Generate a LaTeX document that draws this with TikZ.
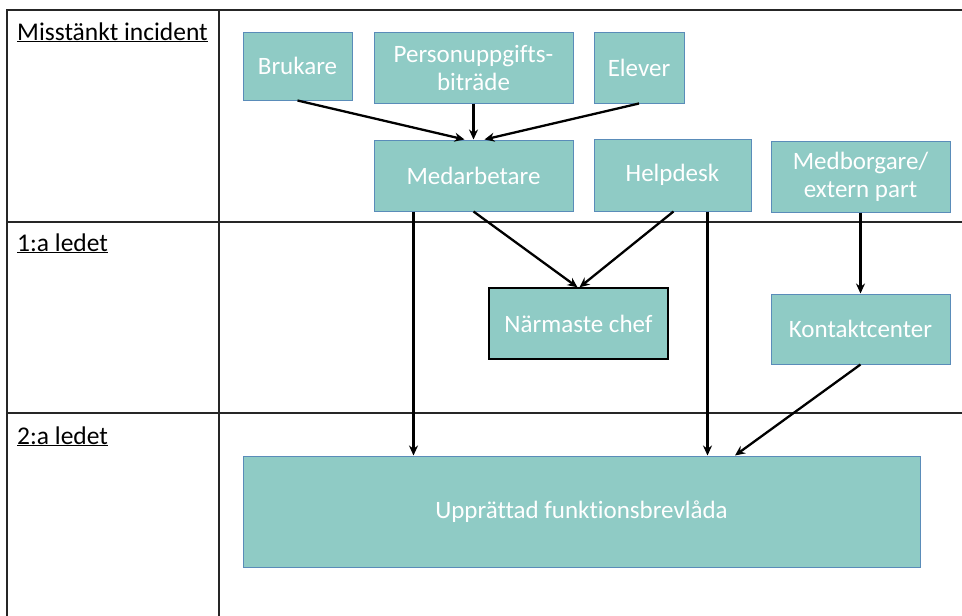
\documentclass[tikz,border=0pt]{standalone}
\usepackage{fontspec}
\setmainfont[Ligatures=NoCommon]{Carlito}
\usetikzlibrary{arrows.meta}
\definecolor{boxfill}{RGB}{143,203,197}
\definecolor{boxedge}{RGB}{90,140,185}
\begin{document}
\begin{tikzpicture}[x=1pt,y=-1pt,
  box/.style={draw=boxedge,line width=1pt,fill=boxfill,text=white,align=center,
    font=\fontsize{25}{28}\selectfont,inner sep=2pt},
  lbl/.style={anchor=base west,font=\fontsize{25.5}{28}\selectfont,inner sep=0pt},
  grid/.style={line width=1.4pt,black!85},
  arr/.style={line width=2.3pt,-{Stealth[length=10pt,width=9pt]}}]
\useasboundingbox (0,0) rectangle (962,616);
% table
\draw[grid] (7,616) -- (7,10) -- (962,10);
\draw[grid] (219,10) -- (219,616);
\draw[grid] (7,222) -- (962,222);
\draw[grid] (7,413) -- (962,413);
\node[lbl] (l0) at (17,40) {\underline{Misstänkt incident}};
\node[lbl] (l1) at (17,251) {\underline{1:a ledet}};
\node[lbl] (l2) at (17,444) {\underline{2:a ledet}};
% boxes
\node[box,minimum width=109,minimum height=68] (bru) at (297.5,66) {Brukare};
\node[box,minimum width=199,minimum height=71] (per) at (473.5,67.5) {Personuppgifts-\\biträde};
\node[box,minimum width=90,minimum height=71] (ele) at (639,67.5) {Elever};
\node[box,minimum width=199,minimum height=71] (med) at (473.5,175.5) {Medarbetare};
\node[box,minimum width=157,minimum height=72] (hel) at (672.5,175) {Helpdesk};
\node[box,minimum width=179,minimum height=71] (mbg) at (860.5,176.5) {Medborgare/\\extern part};
\node[box,draw=black,line width=1.4pt,minimum width=179,minimum height=71] (nch) at (578.5,323.5) {Närmaste chef};
\node[box,minimum width=179,minimum height=70] (kon) at (860.5,329) {Kontaktcenter};
\node[box,minimum width=677,minimum height=111] (upp) at (581.5,511.5) {Upprättad funktionsbrevlåda};
% arrows
\draw[arr] (bru.south) -- ([xshift=-9]med.north);
\draw[arr] (per.south) -- (med.north);
\draw[arr] (ele.south) -- ([xshift=11]med.north);
\draw[arr] (med.south) -- ([xshift=-1]nch.north);
\draw[arr] ([xshift=1]hel.south) -- ([xshift=1]nch.north);
\coordinate (m1) at ([xshift=-60]med.south);
\coordinate (h1) at ([xshift=35]hel.south);
\draw[arr] (m1) -- (m1 |- upp.north);
\draw[arr] (h1) -- (h1 |- upp.north);
\draw[arr] (mbg.south) -- (kon.north);
\draw[arr] (kon.south) -- ([xshift=153.5]upp.north);
\end{tikzpicture}
\end{document}
